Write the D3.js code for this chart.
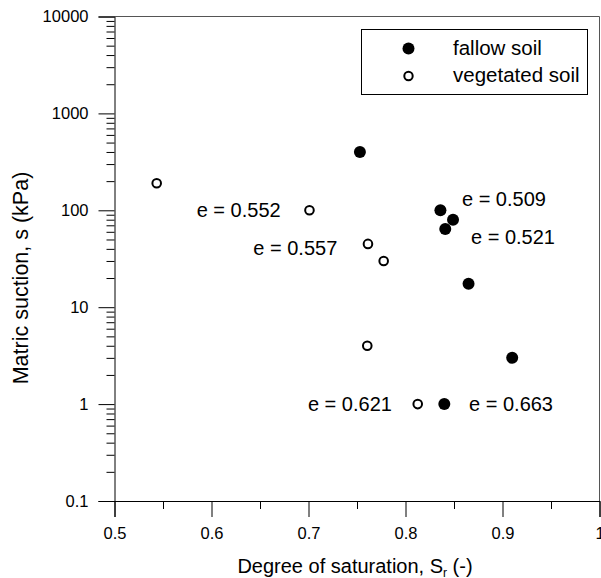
<!DOCTYPE html>
<html>
<head>
<meta charset="utf-8">
<script src="https://cdn.jsdelivr.net/npm/d3@7"></script>
<style>
  html, body { margin: 0; padding: 0; background: #fff; }
  svg { display: block; font-family: "Liberation Sans", Arial, Helvetica, sans-serif; }
</style>
</head>
<body>
<svg id="chart" width="601" height="578"></svg>
<script>
// ---- data ----
const fallowSr = [0.753, 0.836, 0.849, 0.841, 0.865, 0.910, 0.840];
const fallowS  = [400, 100, 80, 64, 17.5, 3, 1];
const vegSr    = [0.5435, 0.701, 0.7613, 0.7775, 0.7606, 0.8126];
const vegS     = [190, 100, 45, 30, 4, 1];
const labelText = ["e = 0.509", "e = 0.521", "e = 0.552", "e = 0.557", "e = 0.621", "e = 0.663"];
const labelSr   = [0.8582, 0.8675, 0.5847, 0.6431, 0.786, 0.8655];
const labelS    = [131, 52.4, 100, 41.3, 1, 1];
const labelAnchor = ["start", "start", "start", "start", "end", "start"];
const xTicks = [0.5, 0.6, 0.7, 0.8, 0.9, 1];
const xTickLabels = ["0.5", "0.6", "0.7", "0.8", "0.9", "1"];
const xMinor = [0.55, 0.65, 0.75, 0.85, 0.95];
const yTicks = [0.1, 1, 10, 100, 1000, 10000];
const yTickLabels = ["0.1", "1", "10", "100", "1000", "10000"];
const legendNames = ["fallow soil", "vegetated soil"];

// ---- layout ----
const svg = d3.select("#chart");
const L = 114.5, R = 599.5, T = 16.5, B = 501;
const x = d3.scaleLinear().domain([0.5, 1]).range([L, R]);
const y = d3.scaleLog().domain([0.1, 10000]).range([B, T]);

// minor y ticks
const yMinor = [];
for (let d = 0.1; d < 10000; d *= 10) {
  for (let k = 2; k <= 9; k++) yMinor.push(+(d * k).toPrecision(3));
}

// frame (top and right)
svg.append("line").attr("x1", L).attr("x2", R).attr("y1", T).attr("y2", T)
  .attr("stroke", "#555").attr("stroke-width", 1);
svg.append("line").attr("x1", R).attr("x2", R).attr("y1", T).attr("y2", B)
  .attr("stroke", "#555").attr("stroke-width", 1);

// y axis
const yAxis = d3.axisLeft(y).tickValues(yTicks)
  .tickFormat((d, i) => yTickLabels[i]).tickSize(16).tickPadding(10);
const gy = svg.append("g").attr("transform", `translate(${L},0)`).call(yAxis);
gy.selectAll(".tick line").attr("stroke", "#000");
gy.select(".domain").attr("stroke", "#000");
gy.selectAll("text").attr("font-size", 16.5).attr("fill", "#000")
  .attr("font-family", "Liberation Sans, Arial, sans-serif");
const gyMinor = svg.append("g").attr("transform", `translate(${L},0)`)
  .call(d3.axisLeft(y).tickValues(yMinor).tickSize(8).tickFormat(""));
gyMinor.select(".domain").remove();
gyMinor.selectAll(".tick line").attr("stroke", "#000");

// x axis
const xAxis = d3.axisBottom(x).tickValues(xTicks)
  .tickFormat((d, i) => xTickLabels[i]).tickSize(16).tickPadding(10);
const gx = svg.append("g").attr("transform", `translate(0,${B})`).call(xAxis);
gx.selectAll(".tick line").attr("stroke", "#000");
gx.select(".domain").attr("stroke", "#000");
gx.selectAll("text").attr("font-size", 16.5).attr("fill", "#000")
  .attr("font-family", "Liberation Sans, Arial, sans-serif");
const gxMinor = svg.append("g").attr("transform", `translate(0,${B})`)
  .call(d3.axisBottom(x).tickValues(xMinor).tickSize(8).tickFormat(""));
gxMinor.select(".domain").remove();
gxMinor.selectAll(".tick line").attr("stroke", "#000");

// axis titles
const xt = svg.append("text").attr("x", (L + R) / 2 - 2).attr("y", 573)
  .attr("text-anchor", "middle").attr("font-size", 20).attr("fill", "#000");
xt.append("tspan").attr("fill", "#000").text("Degree of saturation, S");
xt.append("tspan").attr("fill", "#000").attr("font-size", 12).attr("dy", 4).text("r");
xt.append("tspan").attr("fill", "#000").attr("dy", -4).text(" (-)");

svg.append("text").attr("transform", `translate(28,278) rotate(-90)`)
  .attr("text-anchor", "middle").attr("font-size", 21.5).attr("fill", "#000")
  .text("Matric suction, s (kPa)");

// points
svg.append("g").selectAll("circle").data(fallowSr).join("circle")
  .attr("cx", d => x(d)).attr("cy", (d, i) => y(fallowS[i]))
  .attr("r", 6).attr("fill", "#000");
svg.append("g").selectAll("circle").data(vegSr).join("circle")
  .attr("cx", d => x(d)).attr("cy", (d, i) => y(vegS[i]))
  .attr("r", 4.3).attr("fill", "#fff").attr("stroke", "#000").attr("stroke-width", 2);

// annotations
svg.append("g").selectAll("text").data(labelText).join("text")
  .attr("x", (d, i) => x(labelSr[i])).attr("y", (d, i) => y(labelS[i]))
  .attr("dy", "0.35em").attr("text-anchor", (d, i) => labelAnchor[i])
  .attr("font-size", 20).attr("fill", "#000").text(d => d);

// legend
const lg = svg.append("g");
lg.append("rect").attr("x", 361.5).attr("y", 29.5).attr("width", 226).attr("height", 65)
  .attr("fill", "#fff").attr("stroke", "#000").attr("stroke-width", 1);
lg.append("circle").attr("cx", 408.5).attr("cy", 48.5).attr("r", 6).attr("fill", "#000");
lg.append("circle").attr("cx", 408.5).attr("cy", 76).attr("r", 4.2)
  .attr("fill", "#fff").attr("stroke", "#000").attr("stroke-width", 2);
lg.selectAll("text.lt").data(legendNames).join("text").attr("class", "lt")
  .attr("x", 453).attr("y", (d, i) => 55 + i * 27)
  .attr("font-size", 20.5).attr("fill", "#000").text(d => d);
</script>
</body>
</html>
